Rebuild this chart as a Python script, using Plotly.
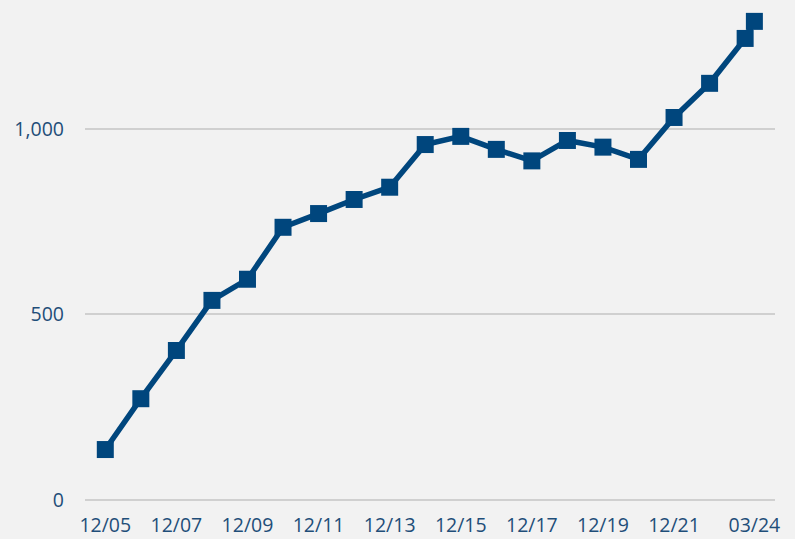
import plotly.graph_objects as go

# Data
dates = ["12/05", "12/06", "12/07", "12/08", "12/09", "12/10", "12/11", "12/12",
         "12/13", "12/14", "12/15", "12/16", "12/17", "12/18", "12/19", "12/20",
         "12/21", "12/22", "12/23", "03/24"]
x_pos = [0, 1, 2, 3, 4, 5, 6, 7, 8, 9, 10, 11, 12, 13, 14, 15, 16, 17, 18, 18.26]
values = [136, 273, 403, 538, 595, 735, 772, 810, 843, 958, 980, 945, 914, 969,
          951, 918, 1031, 1123, 1244, 1290]

tick_idx = [0, 2, 4, 6, 8, 10, 12, 14, 16, 19]
tick_vals = [x_pos[i] for i in tick_idx]
tick_text = [dates[i] for i in tick_idx]

y_ticks = [0, 500, 1000]
y_text = ["0", "500", "1,000"]

line_color = "#00467d"
text_color = "#1f4e79"
bg = "#f2f2f2"
grid = "#d0d0d0"
tick_font = dict(family="Open Sans", size=19.5, color=text_color)

fig = go.Figure()
fig.add_trace(go.Scatter(
    x=x_pos, y=values, mode="lines+markers",
    line=dict(color=line_color, width=5.5),
    marker=dict(symbol="square", size=17, color=line_color),
    text=dates, hoverinfo="text+y", showlegend=False,
    cliponaxis=False,
))

fig.update_layout(
    width=795, height=539,
    paper_bgcolor=bg, plot_bgcolor=bg,
    margin=dict(l=85, r=20, t=0, b=39.3),
    font=tick_font,
    xaxis=dict(
        range=[-0.571, 18.84], tickmode="array", tickvals=tick_vals,
        ticktext=tick_text, showgrid=False, zeroline=False, showline=False,
        ticks="", ticklabelstandoff=11, tickfont=tick_font,
    ),
    yaxis=dict(
        range=[0, 1347.6], tickmode="array", tickvals=y_ticks, ticktext=y_text,
        showgrid=True, gridcolor=grid, gridwidth=1.5,
        zeroline=True, zerolinecolor=grid, zerolinewidth=1.5,
        showline=False, ticks="", ticklabelstandoff=20, tickfont=tick_font,
    ),
)

fig.write_html(
    "out.html",
    config={"displayModeBar": False},
    post_script="document.body.style.margin='0';document.body.style.padding='0';",
)
